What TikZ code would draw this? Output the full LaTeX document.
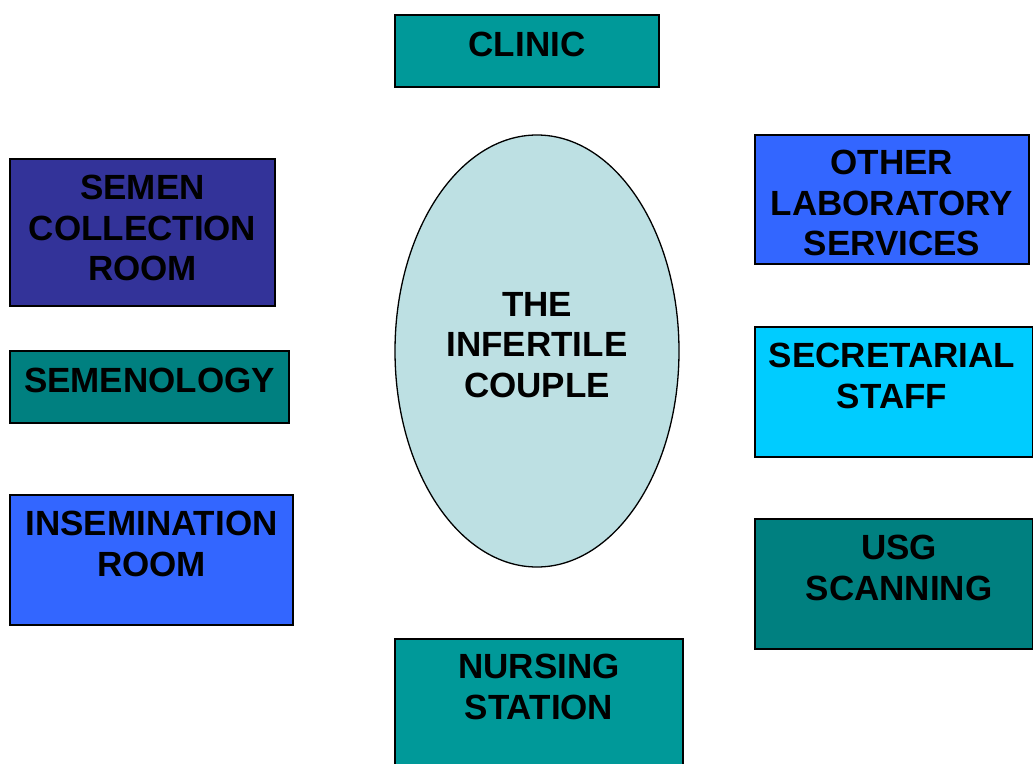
\documentclass[tikz,border=0pt]{standalone}
\usepackage{fontspec}
\setmainfont{Liberation Sans}
\usetikzlibrary{shapes.geometric}
\definecolor{tealA}{HTML}{009999}
\definecolor{tealB}{HTML}{008080}
\definecolor{navyB}{HTML}{333399}
\definecolor{blueB}{HTML}{3366FF}
\definecolor{cyanB}{HTML}{00CCFF}
\definecolor{ellB}{HTML}{BDE0E3}
\tikzset{
  box/.style={draw=black, line width=1.3pt, rectangle, inner sep=0pt},
  lbl/.style={font=\bfseries\fontsize{35}{40.5}\selectfont, align=center, inner sep=0pt, text=black}
}
\begin{document}
\begin{tikzpicture}[x=1pt,y=-1pt]
\useasboundingbox (0,0) rectangle (1033,763);
\clip (0,0) rectangle (1033,763);
% boxes
\node[box, fill=tealA, minimum width=264pt, minimum height=72pt] (clinic) at (527,51) {};
\node[lbl] (clinicT) at (527,44.5) {CLINIC};

\node[draw=black, line width=1.3pt, ellipse, fill=ellB, minimum width=284pt, minimum height=432pt, inner sep=0pt] (couple) at (537,351) {};
\node[lbl] (coupleT) at (537,345) {THE\\INFERTILE\\COUPLE};

\node[box, fill=navyB, minimum width=265pt, minimum height=147pt] (semen) at (142.5,232.5) {};
\node[lbl] (semenT) at (142.5,228) {SEMEN\\COLLECTION\\ROOM};

\node[box, fill=tealB, minimum width=279pt, minimum height=72pt] (semenology) at (149.5,387) {};
\node[lbl] (semenologyT) at (149.5,380.5) {SEMENOLOGY};

\node[box, fill=blueB, minimum width=283pt, minimum height=130pt] (insem) at (151.5,560) {};
\node[lbl] (insemT) at (151.5,544) {INSEMINATION\\ROOM};

\node[box, fill=blueB, minimum width=274pt, minimum height=129pt] (lab) at (892,199.5) {};
\node[lbl] (labT) at (892,203) {OTHER\\LABORATORY\\SERVICES};

\node[box, fill=cyanB, minimum width=278pt, minimum height=130pt] (secr) at (894,392) {};
\node[lbl] (secrT) at (892,376) {SECRETARIAL\\STAFF};

\node[box, fill=tealB, minimum width=278pt, minimum height=130pt] (usg) at (894,584) {};
\node[lbl] (usgT) at (899,568) {USG\\SCANNING};

\node[box, fill=tealA, minimum width=288pt, minimum height=160pt] (nursing) at (539,719) {};
\node[lbl] (nursingT) at (539,687) {NURSING\\STATION};
\end{tikzpicture}
\end{document}
